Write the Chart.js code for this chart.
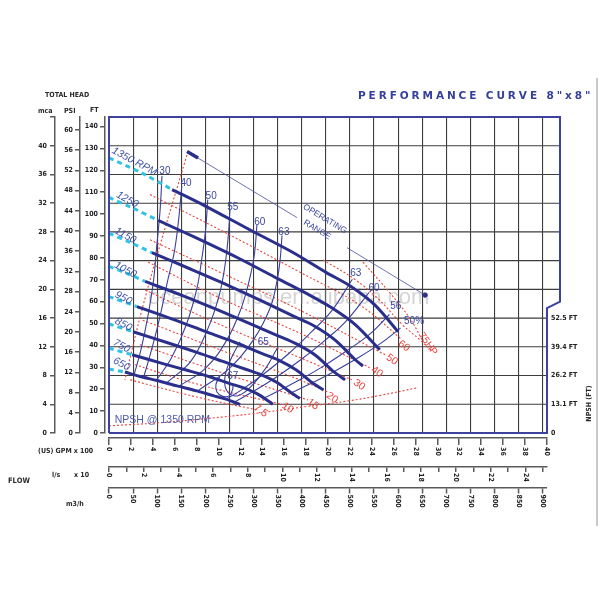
<!DOCTYPE html>
<html>
<head>
<meta charset="utf-8">
<title>Performance curve 8"x8"</title>
<script src="https://cdn.jsdelivr.net/npm/chart.js@4.4.0/dist/chart.umd.min.js"></script>
<style>
  html, body { margin: 0; padding: 0; background: #fff; }
  #wrap { position: relative; width: 600px; height: 600px; overflow: hidden; }
  #wrap canvas { position: absolute; left: 0; top: 0; }
  .lbl { position: absolute; font-family: "DejaVu Sans Condensed", "Liberation Sans Narrow", sans-serif; font-weight: bold; font-size: 7px; color: #2a2a2a; white-space: nowrap; line-height: 1; }
  #title { position: absolute; left: 358px; top: 90px; font-family: "DejaVu Sans", sans-serif; font-weight: bold; font-size: 10.5px; letter-spacing: 2.9px; color: #34409a; white-space: nowrap; line-height: 1; }
  #npshTitle { left: 571px; top: 400px; transform: rotate(-90deg); transform-origin: center; }
  #edge { position: absolute; left: 596px; top: 78px; width: 2px; height: 448px; background: #c9c9c9; }
</style>
</head>
<body>
<div id="wrap">
  <canvas id="chart" width="600" height="600"></canvas>
  <div id="title">PERFORMANCE CURVE 8"x8"</div>
  <div class="lbl" style="left:45px;top:92px;">TOTAL HEAD</div>
  <div class="lbl" style="left:38px;top:108px;">mca</div>
  <div class="lbl" style="left:64px;top:108px;">PSI</div>
  <div class="lbl" style="left:90px;top:107px;">FT</div>
  <div class="lbl" style="left:38px;top:448px;">(US) GPM x 100</div>
  <div class="lbl" style="left:8px;top:477px;font-size:7.5px;">FLOW</div>
  <div class="lbl" style="left:52px;top:472px;">l/s</div>
  <div class="lbl" style="left:74px;top:472px;">x 10</div>
  <div class="lbl" style="left:66px;top:501px;">m3/h</div>
  <div class="lbl" id="npshTitle">NPSH (FT)</div>
  <div id="edge"></div>
</div>
<script>
// --- UNITS / AXIS RANGES ---
const Q_MAX = 909;          // m3/h at right edge of plot
const H_MAX = 44;           // m at top of plot
const FT_PER_M = 3.28084;
const PSI_PER_M = 1.42233;
const GPM_PER_M3H = 4.40287;

// frame of the plot (m3/h, m)
const frame = [[0, 0], [0, 44], [936, 44], [936, 18.3], [909, 17.4], [909, 0], [0, 0]];
const gridLevels = [4, 8, 12, 16, 20, 24, 28, 32, 36, 40];

// --- HEAD CURVES (Q m3/h, H m) ---
const speeds = ['1350', '1250', '1150', '1050', '950', '850', '750', '650'];
const headDash = [
  [[0, 38.3], [65, 36.3], [131, 33.9]],
  [[0, 32.8], [50, 31.3], [102, 29.6]],
  [[0, 27.8], [45, 26.5], [89, 25.1]],
  [[0, 23.2], [38, 22.2], [75, 21.1]],
  [[0, 19.0], [58, 17.6]],
  [[0, 15.2], [50, 14.1]],
  [[0, 11.8], [48, 10.9]],
  [[0, 8.9], [33, 8.5]]
];
const headSolid = [
  [[131, 33.9], [200, 31.6], [292, 28.3], [380, 25.2], [452, 22.3], [500, 20.5], [552, 17.8], [600, 14.1]],
  [[102, 29.6], [180, 27.2], [270, 24.3], [350, 21.5], [419, 19.1], [463, 17.4], [511, 15.1], [562, 11.6]],
  [[89, 25.1], [170, 22.8], [249, 20.5], [320, 18.3], [385, 16.2], [426, 14.9], [470, 12.9], [511, 10.2], [527, 9.3]],
  [[75, 21.1], [150, 19.2], [227, 17.1], [290, 15.3], [352, 13.5], [389, 12.4], [429, 10.8], [467, 8.5], [490, 7.4]],
  [[58, 17.6], [130, 15.9], [205, 14.0], [262, 12.6], [318, 11.05], [352, 10.15], [388, 8.8], [422, 7.0], [445, 6.0]],
  [[50, 14.1], [120, 12.6], [184, 11.2], [235, 10.0], [285, 8.84], [315, 8.13], [348, 7.06], [378, 5.6], [396, 4.8]],
  [[48, 10.9], [110, 9.7], [162, 8.73], [210, 7.8], [251, 6.88], [278, 6.33], [307, 5.49], [333, 4.35], [340, 4.0]],
  [[33, 8.5], [63, 7.9], [100, 7.3], [141, 6.56], [180, 5.9], [218, 5.17], [241, 4.75], [266, 4.13], [272, 3.95]]
];

// --- EFFICIENCY LINES ---
const effLines = [
  [[110, 35.8], [106, 31], [99, 26], [92, 21], [80, 16], [66, 11.5], [52, 8.1]],          // 30
  [[151, 34.4], [145, 30], [135, 25], [122, 21.3], [105, 16], [88, 11.5], [72, 7.8]],     // 40
  [[205, 32.5], [200, 28], [192, 24], [182, 20], [160, 15], [130, 10.5], [98, 7.3]],      // 50
  [[251, 31.1], [247, 27], [240, 23], [228, 19], [205, 14.5], [170, 10], [120, 7.0]],     // 55
  [[307, 29.0], [302, 25], [292, 21.5], [275, 17.5], [245, 13], [200, 9], [145, 6.5]],    // 60
  [[359, 27.5], [355, 24], [349, 21.3], [335, 17.5], [300, 13], [250, 9], [185, 5.9]],    // 63
  [[505, 21.4], [462, 17], [419, 14], [372, 11], [317, 8], [275, 6], [243, 4.7]],         // 63 right
  [[540, 19.6], [495, 15.8], [450, 13], [400, 10.3], [350, 7.9], [300, 5.8], [260, 4.3]], // 60 right
  [[582, 16.5], [540, 13.7], [490, 11.3], [440, 9.1], [390, 7.2], [340, 5.45], [322, 4.9]], // 56 right
  [[605, 14.6], [560, 12.3], [510, 10.2], [460, 8.3], [410, 6.6], [378, 5.6]],            // 50 right
  [[272, 12.7], [258, 11], [245, 9], [240, 7], [248, 5.6], [268, 5.2], [295, 6.5], [325, 9], [345, 11.3], [349, 11.8]], // 65
  [[230, 7.8], [222, 6.8], [224, 5.7], [236, 5.1], [250, 5.2], [257, 6.2], [257, 6.8]]   // 67
];
const effLabels = [
  ['30', 116, 36.4], ['40', 160, 34.8], ['50', 212, 33.0], ['55', 257, 31.5], ['60', 313, 29.4], ['63', 363, 28.0],
  ['63', 512, 22.3], ['60', 550, 20.2], ['56', 595, 17.6], ['50%', 633, 15.5], ['65', 320, 12.7], ['67', 257, 7.9]
];

// --- POWER LINES (HP) ---
const powerLines = [
  [[444, 24.1], [510, 21.4], [560, 18.6], [610, 15.0], [645, 13.0], [672, 11.3]], // 75HP
  [[527, 23.8], [583, 19.5], [624, 16.0], [650, 13.0]],
  [[85, 33.2], [230, 28.3], [396, 22.4], [521, 17.8], [608, 13.0]],  // 60
  [[85, 26.9], [230, 22.4], [396, 17.1], [573, 10.9]],               // 50
  [[81, 23.8], [230, 18.8], [396, 13.9], [541, 9.1]],                // 40
  [[75, 19.9], [230, 15.1], [396, 10.5], [504, 7.4]],                // 30
  [[70, 15.7], [230, 11.6], [396, 7.4], [454, 5.7]],                 // 20
  [[64, 12.3], [230, 8.5], [413, 4.6]],                              // 15
  [[54, 9.5], [189, 6.7], [365, 3.9]],                               // 10
  [[44, 7.4], [189, 4.9], [309, 3.2]]                                // 7.5
];
const minFlowLine = [[164, 39.2], [125, 30.5], [88, 22], [62, 15.5], [33, 7.4]];
const powerLabels = [
  ['60', 612, 12.1], ['50', 587, 10.2], ['40', 556, 8.5], ['30', 519, 6.7], ['20', 463, 4.9],
  ['15', 423, 4.0], ['10', 371, 3.5], ['7.5', 315, 3.1]
];

// --- NPSH @ 1350 RPM ---
const npshCurve = [[0, 1.0], [100, 1.4], [200, 2.0], [300, 2.7], [400, 3.6], [500, 4.5], [560, 5.2], [640, 6.3]];
const npshTickM = [0, 4, 8, 12, 16];
const npshTickText = ['0', '13.1 FT', '26.2 FT', '39.4 FT', '52.5 FT'];

// --- OPERATING RANGE ---
const opRangeA = [[162, 39.2], [390, 30.0]];
const opRangeB = [[494, 25.8], [656, 19.2]];

// --- RPM LABELS ---
const rpmLabelText = ['1350 RPM', '1250', '1150', '1050', '950', '850', '750', '650'];
const rpmLabelPos = [[53, 37.8], [38, 32.5], [34, 27.5], [34, 22.7], [30, 18.8], [30, 15.1], [26, 12.1], [26, 9.6]];

// --- COLOURS ---
const NAVY = '#2b2f8c';
const CYAN = '#2fc3e6';
const RED = '#e8463e';
const THIN = '#3a409c';
const TICK_FONT = '"DejaVu Sans Condensed", "Liberation Sans Narrow", sans-serif';

// --- DATASETS ---
const datasets = [];
const toXY = pts => pts.map(p => ({ x: p[0], y: p[1] }));
function addLine(pts, style) {
    datasets.push(Object.assign({
        data: toXY(pts), xAxisID: 'x', yAxisID: 'y',
        pointRadius: 0, pointHoverRadius: 0, fill: false, order: -datasets.length
    }, style));
}

gridLevels.forEach(h => addLine([[0, h], [h > 18 ? 936 : 909, h]], { borderColor: '#3c3c3c', borderWidth: 1.1, clip: false }));
addLine(npshCurve, { borderColor: RED, borderWidth: 1.1, borderDash: [2, 2], tension: 0.4 });
addLine(minFlowLine, { borderColor: RED, borderWidth: 1.1, borderDash: [2, 2], tension: 0.3 });
powerLines.forEach(p => addLine(p, { borderColor: RED, borderWidth: 1.1, borderDash: [2, 2], tension: 0.4 }));
effLines.forEach(p => addLine(p, { borderColor: THIN, borderWidth: 1.1, tension: 0.4 }));
headDash.forEach(p => addLine(p, { borderColor: CYAN, borderWidth: 3, borderDash: [5, 4], tension: 0.3 }));
headSolid.forEach(p => addLine(p, { borderColor: NAVY, borderWidth: 3, tension: 0.3 }));
addLine(opRangeA, { borderColor: '#4a4f9e', borderWidth: 0.8 });
addLine(opRangeB, { borderColor: '#4a4f9e', borderWidth: 0.8 });

// arrow ends of the operating range line: a short heavy stub at the top, a dot at the bottom
const opTop = opRangeA[0];
const opDir = [opRangeA[1][0] - opTop[0], opRangeA[1][1] - opTop[1]];
addLine([opTop, [opTop[0] + opDir[0] * 0.1, opTop[1] + opDir[1] * 0.1]], { borderColor: NAVY, borderWidth: 3.5 });
addLine([opRangeB[opRangeB.length - 1]], {
    showLine: false, pointRadius: 2.2, pointBackgroundColor: NAVY, pointBorderColor: NAVY
});
addLine(frame, { borderColor: '#3d429e', borderWidth: 2, clip: false });

// --- TEXT ON THE PLOT ---
function putText(chart, txt, q, h, rot, font, color, align) {
    const ctx = chart.ctx;
    ctx.save();
    ctx.translate(chart.scales.x.getPixelForValue(q), chart.scales.y.getPixelForValue(h));
    ctx.rotate(rot * Math.PI / 180);
    ctx.font = font;
    ctx.fillStyle = color;
    ctx.textAlign = align || 'center';
    ctx.textBaseline = 'middle';
    ctx.fillText(txt, 0, 0);
    ctx.restore();
}

const annotations = {
    id: 'annotations',
    beforeDatasetsDraw(chart) {
        putText(chart, 'oceanpumps.en.alibaba.com', 81, 18.8, 0, '22px "Liberation Sans"', 'rgba(150,150,150,0.4)', 'left');
    },
    afterDatasetsDraw(chart) {
        rpmLabelText.forEach((t, i) => putText(chart, t, rpmLabelPos[i][0], rpmLabelPos[i][1], 28, 'italic 10.5px "Liberation Sans"', '#3d4fa8'));
        effLabels.forEach(l => putText(chart, l[0], l[1], l[2], 0, '10px "Liberation Sans"', '#3b47a0'));
        powerLabels.forEach(l => putText(chart, l[0], l[1], l[2], 35, '10.5px "Liberation Sans"', RED));
        putText(chart, '75HP', 662, 12.4, 55, '10px "Liberation Sans"', RED);
        putText(chart, 'OPERATING', 448, 29.8, 31, '8.5px "Liberation Sans"', '#3b47a0');
        putText(chart, 'RANGE', 432, 28.3, 31, '8.5px "Liberation Sans"', '#3b47a0');
        putText(chart, 'NPSH @ 1350 RPM', 12, 1.8, 0, '10.5px "Liberation Sans"', '#4d5bb0', 'left');
    }
};

// flow tick labels, rotated to read top-to-bottom
const flowLabels = {
    id: 'flowLabels',
    afterDraw(chart) {
        const ctx = chart.ctx;
        const rows = [
            ['gpm', 9, v => String(v)],
            ['ls', 6, v => (v % 2 === 0 ? String(v) : '')],
            ['x', 7, v => String(v)]
        ];
        ctx.save();
        ctx.font = 'bold 7px ' + TICK_FONT;
        ctx.fillStyle = '#222';
        ctx.textAlign = 'left';
        ctx.textBaseline = 'middle';
        rows.forEach(([id, off, fmt]) => {
            const s = chart.scales[id];
            s.ticks.forEach(t => {
                const txt = fmt(t.value);
                if (!txt) return;
                ctx.save();
                ctx.translate(s.getPixelForValue(t.value), s.top + off);
                ctx.rotate(Math.PI / 2);
                ctx.fillText(txt, 0, 0);
                ctx.restore();
            });
        });
        ctx.restore();
    }
};

// --- SCALES ---
const axisGrid = { drawOnChartArea: false, drawTicks: true, color: '#5a5a5a', lineWidth: 1.5 };
const axisBorder = { display: true, color: '#5a5a5a', width: 1.5 };
const tickFont = { family: TICK_FONT, weight: 'bold', size: 7 };
const hidden = { grid: { display: false, drawTicks: false }, border: { display: false }, ticks: { display: false } };

const scales = {
    y: { type: 'linear', position: 'left', weight: 0, min: 0, max: H_MAX, display: false },
    sp: Object.assign({ type: 'linear', position: 'left', weight: 1, min: 0, max: 1, afterFit: s => { s.width = 4; } }, hidden),
    ft: {
        type: 'linear', position: 'left', weight: 2, min: 0, max: H_MAX * FT_PER_M,
        afterFit: s => { s.width = 25; },
        border: axisBorder, grid: Object.assign({ tickLength: 5 }, axisGrid),
        ticks: { stepSize: 10, includeBounds: false, autoSkip: false, padding: 2, color: '#222', font: tickFont }
    },
    psi: {
        type: 'linear', position: 'left', weight: 3, min: 0, max: H_MAX * PSI_PER_M,
        afterFit: s => { s.width = 25; },
        border: axisBorder, grid: Object.assign({ tickLength: 5 }, axisGrid),
        ticks: { stepSize: 4, includeBounds: false, autoSkip: false, padding: 2, color: '#222', font: tickFont }
    },
    mca: {
        type: 'linear', position: 'left', weight: 4, min: 0, max: H_MAX,
        afterFit: s => { s.width = 25; },
        border: axisBorder, grid: Object.assign({ tickLength: 5 }, axisGrid),
        ticks: { stepSize: 4, includeBounds: false, autoSkip: false, padding: 3, color: '#222', font: tickFont,
                 callback: v => (v <= 40 ? v : '') }
    },
    npsh: {
        type: 'linear', position: 'right', min: 0, max: H_MAX,
        afterFit: s => { s.width = 43; },
        grid: { display: false, drawTicks: false }, border: { display: false },
        ticks: { stepSize: 4, includeBounds: false, autoSkip: false, padding: 4, color: '#222', font: tickFont,
                 callback: v => { const i = npshTickM.indexOf(v); return i < 0 ? '' : npshTickText[i]; } }
    },
    spx: Object.assign({ type: 'linear', position: 'bottom', weight: 0, min: 0, max: 1, afterFit: s => { s.height = 5; } }, hidden),
    gpm: {
        type: 'linear', position: 'bottom', weight: 1, min: 0, max: Q_MAX * GPM_PER_M3H / 100,
        afterFit: s => { s.height = 29; },
        border: axisBorder, grid: Object.assign({ tickLength: 7 }, axisGrid),
        ticks: { display: false, stepSize: 2, includeBounds: false, autoSkip: false }
    },
    ls: {
        type: 'linear', position: 'bottom', weight: 2, min: 0, max: Q_MAX / 36,
        afterFit: s => { s.height = 20.5; },
        border: axisBorder, grid: Object.assign({ tickLength: 5 }, axisGrid),
        ticks: { display: false, stepSize: 1, includeBounds: false, autoSkip: false }
    },
    x: {
        type: 'linear', position: 'bottom', weight: 3, min: 0, max: Q_MAX,
        afterFit: s => { s.height = 22; },
        border: axisBorder,
        grid: { drawOnChartArea: true, drawTicks: true, tickLength: 6, color: '#3c3c3c', lineWidth: 1.1, tickColor: '#5a5a5a', tickWidth: 1.5 },
        ticks: { display: false, stepSize: 50, includeBounds: false, autoSkip: false }
    }
};

new Chart(document.getElementById('chart').getContext('2d'), {
    type: 'line',
    data: { datasets: datasets },
    options: {
        responsive: false,
        animation: false,
        events: [],
        layout: { padding: { left: 30, right: 10, top: 117, bottom: 90.5 } },
        plugins: { legend: { display: false }, tooltip: { enabled: false }, title: { display: false } },
        scales: scales
    },
    plugins: [annotations, flowLabels]
});
</script>
</body>
</html>
